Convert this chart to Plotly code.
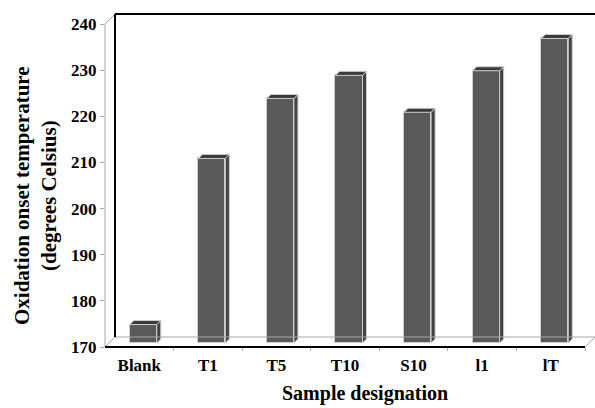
import plotly.graph_objects as go

# ---- data ----
categories = ["Blank", "T1", "T5", "T10", "S10", "l1", "lT"]
onset_temp = [174, 210, 223, 228, 220, 229, 236]
y_ticks = [170, 180, 190, 200, 210, 220, 230, 240]
y_title = "Oxidation onset temperature<br>(degrees Celsius)"
x_title = "Sample designation"

# ---- geometry (pixels) ----
W, H = 595, 408
L, R, T, B = 105, 0, 14, 61
plot_w = W - L - R
plot_h = H - T - B
Y0, YTOP = 170, 240
px_per_unit = (plot_h - 10) / (YTOP - Y0)
n = len(categories)
px_per_cat = (plot_w - 10) / n
depth_px = 10
xr = [-0.5, n - 0.5 + depth_px / px_per_cat]
yr = [Y0, YTOP + depth_px / px_per_unit]

bw = 0.394
fdx = 4 / px_per_cat
fdy = 4 / px_per_unit
ddx = 4 / px_per_cat
ddy = 4 / px_per_unit

FONT = "Times New Roman, Liberation Serif, serif"
EDGE = "#cdcdcd"

fig = go.Figure()
xs = [i + fdx for i in range(n)]
fig.add_trace(go.Bar(
    x=xs, y=[v - Y0 for v in onset_temp], base=[Y0 + fdy] * n, width=bw,
    marker=dict(color="#595959", line=dict(color=EDGE, width=1)),
    hoverinfo="skip", showlegend=False))

top_x, top_y, side_x, side_y = [], [], [], []
for i, v in enumerate(onset_temp):
    x0 = xs[i] - bw / 2
    x1 = xs[i] + bw / 2
    yt = v + fdy
    yb = Y0 + fdy
    top_x += [x0, x1, x1 + ddx, x0 + ddx, x0, None]
    top_y += [yt, yt, yt + ddy, yt + ddy, yt, None]
    side_x += [x1, x1, x1 + ddx, x1 + ddx, x1, None]
    side_y += [yb, yt, yt + ddy, yb + ddy, yb, None]

fig.add_trace(go.Scatter(x=side_x, y=side_y, mode="lines", fill="toself",
                         fillcolor="#424242", line=dict(color=EDGE, width=1),
                         hoverinfo="skip", showlegend=False))
fig.add_trace(go.Scatter(x=top_x, y=top_y, mode="lines", fill="toself",
                         fillcolor="#3a3a3a", line=dict(color=EDGE, width=1),
                         hoverinfo="skip", showlegend=False))

# ---- 3D box frame (styling) ----
def px(xp):
    return (xp - L) / plot_w

def py(yp):
    return (T + plot_h - yp) / plot_h

fx0, fx1 = L, L + plot_w - 10
fyb, fyt = T + plot_h, T + plot_h - (YTOP - Y0) * px_per_unit
bx0, bx1 = fx0 + 10, fx1 + 10
byb, byt = fyb - 10, fyt - 10
GRAY = "#a8a8a8"
lines = [
    (fx0, fyb, fx0, fyt, GRAY, 1),
    (fx0, fyt, bx0, byt, GRAY, 1),
    (fx0, fyb, bx0, byb, GRAY, 1),
    (bx0, byb, bx1, byb, GRAY, 1),
    (fx1, fyb, bx1, byb, GRAY, 1),
    (bx0, byt, bx0, byb, "black", 2),
    (bx0, byt, W, byt, "black", 2),
    (fx0, fyb, fx1, fyb, "black", 2),
]
for x0, y0, x1, y1, c, w in lines:
    fig.add_shape(type="line", xref="paper", yref="paper",
                  x0=px(x0), y0=py(y0), x1=px(x1), y1=py(y1),
                  line=dict(color=c, width=w), layer="above")

fig.update_layout(
    width=W, height=H,
    margin=dict(l=L, r=R, t=T, b=B, pad=0),
    paper_bgcolor="white", plot_bgcolor="white",
    bargap=0, showlegend=False,
    font=dict(family=FONT, color="black"),
    xaxis=dict(range=xr, tickmode="array", tickvals=list(range(n)),
               ticktext=categories, ticks="", showline=False, showgrid=False,
               zeroline=False, ticklabelstandoff=6,
               tickfont=dict(family=FONT, size=17, weight="bold", color="black"),
               minor=dict(tickmode="array", tickvals=[i + 0.5 for i in range(n)],
                          ticks="outside", ticklen=3, tickcolor=GRAY, showgrid=False)),
    yaxis=dict(range=yr, tickmode="array", tickvals=y_ticks,
               ticks="outside", ticklen=4, tickcolor=GRAY, showline=False,
               showgrid=False, zeroline=False,
               tickfont=dict(family=FONT, size=17, weight="bold", color="black")),
)

fig.add_annotation(text=y_title, xref="paper", yref="paper", x=0, y=py(196),
                   xshift=-(L - 35), xanchor="center", yanchor="middle",
                   textangle=-90, showarrow=False,
                   font=dict(family=FONT, size=21, weight="bold", color="black"))
fig.add_annotation(text=x_title, xref="paper", yref="paper", x=px(365), y=py(393),
                   xanchor="center", yanchor="middle", showarrow=False,
                   font=dict(family=FONT, size=20, weight="bold", color="black"))

fig.write_html("out.html", config={"displayModeBar": False},
               post_script="document.body.style.margin='0';document.body.style.overflow='hidden';")
